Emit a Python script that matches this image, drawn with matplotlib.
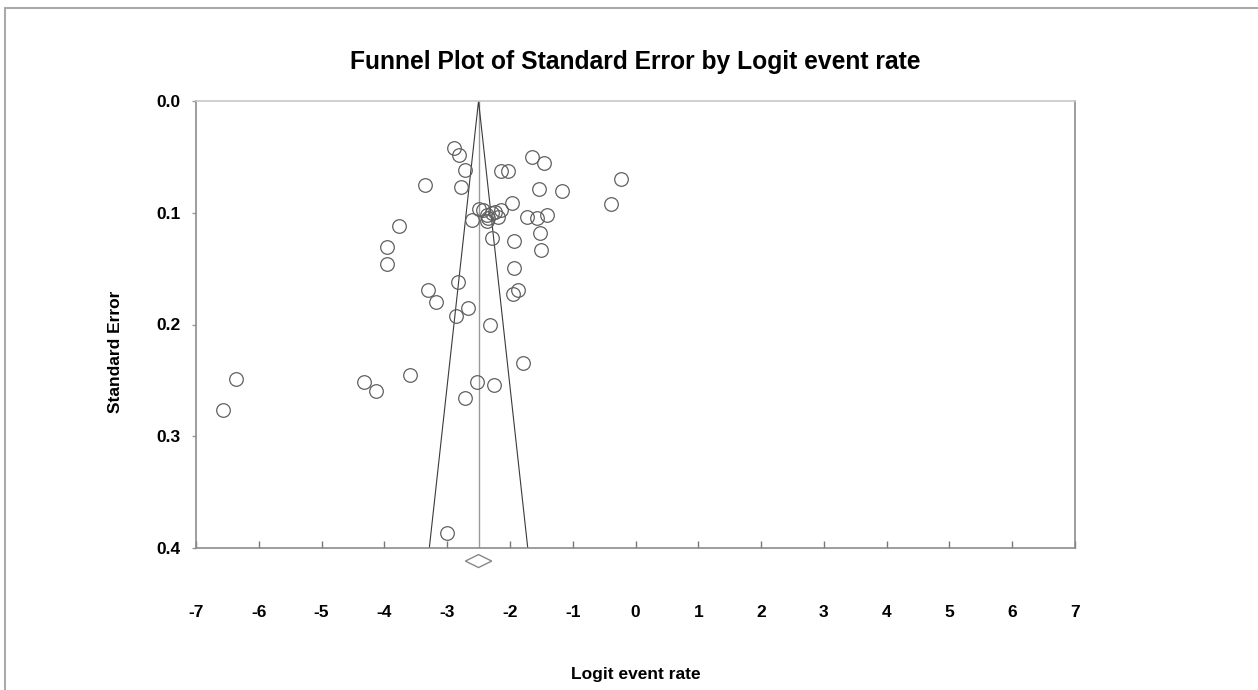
import matplotlib.pyplot as plt
from matplotlib.patches import Polygon, Rectangle

plt.rcParams["font.family"] = ["Liberation Sans", "DejaVu Sans"]
plt.rcParams["axes.unicode_minus"] = False

# Study estimates: logit event rate and standard error
logit_rate = [
    -6.565, -6.358, -4.324, -4.129, -3.587, -3.772, -3.963, -3.953,
    -3.345, -3.311, -3.178, -2.886, -2.816, -2.721, -2.780, -2.147,
    -2.031, -1.654, -1.463, -0.236, -0.391, -1.542, -1.171, -1.972,
    -1.729, -1.574, -1.415, -1.521, -1.506, -2.281, -1.939, -1.932,
    -1.947, -1.867, -2.827, -2.665, -2.859, -2.318, -1.787, -2.530,
    -2.249, -2.716, -2.998, -2.493, -2.424, -2.612, -2.366, -2.345,
    -2.370, -2.238, -2.143, -2.190, -2.291,
]
std_error = [
    0.2765, 0.2490, 0.2512, 0.2592, 0.2452, 0.1116, 0.1304, 0.1461,
    0.0754, 0.1688, 0.1799, 0.0423, 0.0483, 0.0615, 0.0770, 0.0628,
    0.0622, 0.0504, 0.0555, 0.0698, 0.0919, 0.0786, 0.0808, 0.0915,
    0.1035, 0.1044, 0.1020, 0.1179, 0.1333, 0.1229, 0.1255, 0.1492,
    0.1727, 0.1691, 0.1620, 0.1848, 0.1928, 0.2004, 0.2347, 0.2512,
    0.2544, 0.2660, 0.3863, 0.0966, 0.0975, 0.1065, 0.1020, 0.1051,
    0.1074, 0.0993, 0.0971, 0.1034, 0.1005,
]

pooled = -2.50        # combined logit event rate
pooled_half = 0.21    # half width of the pooled diamond
se_max = 0.4
x_ticks = list(range(-7, 8))
y_ticks = [0.0, 0.1, 0.2, 0.3, 0.4]

fig = plt.figure(figsize=(12.58, 6.90), dpi=100)
ax = fig.add_axes([196 / 1258, 1 - 548 / 690, 879 / 1258, 447 / 690])

# funnel
half = 1.96 * se_max
ax.plot([pooled - half, pooled, pooled + half], [se_max, 0, se_max],
        color="#3a3a3a", lw=0.8, zorder=2)
ax.plot([pooled, pooled], [0, se_max], color="#9a9a9a", lw=1.0, zorder=1)

# studies
ax.plot(logit_rate, std_error, "o", ms=9.8, mfc="none", mec="#606060",
        mew=0.9, zorder=3)

# pooled estimate diamond under the axis
dy = 0.0058
diamond = Polygon([[pooled - pooled_half, 0.4117], [pooled, 0.4117 - dy],
                   [pooled + pooled_half, 0.4117], [pooled, 0.4117 + dy]],
                  closed=True, fill=False, ec="#888888", lw=1.0,
                  clip_on=False)
ax.add_patch(diamond)

ax.set_xlim(-7, 7)
ax.set_ylim(0.4, 0.0)
ax.set_xticks(x_ticks)
ax.set_yticks(y_ticks)
ax.set_yticklabels([f"{v:.1f}" for v in y_ticks])

for s in ax.spines.values():
    s.set_color("#8c8c8c")
    s.set_linewidth(1.2)
ax.spines["top"].set_color("#c8c8c8")

ax.tick_params(axis="x", direction="in", length=5, width=1, color="#777777",
               pad=41, labelsize=12.5)
ax.tick_params(axis="y", direction="out", length=3, width=1, color="#999999",
               pad=8, labelsize=12.5)
for lab in ax.get_xticklabels() + ax.get_yticklabels():
    lab.set_fontweight("bold")

ax.set_xlabel("Logit event rate", fontsize=12.5, fontweight="bold")
ax.set_ylabel("Standard Error", fontsize=12.5, fontweight="bold")
ax.xaxis.set_label_coords(0.5, -(674 - 548) / 447)
ax.yaxis.set_label_coords(-(196 - 116) / 879, (548 - 352) / 447)
ax.xaxis.label.set_va("center")
ax.yaxis.label.set_va("center")
fig.text(635 / 1258, 1 - 62 / 690, "Funnel Plot of Standard Error by Logit event rate",
         ha="center", va="center", fontsize=17.7, fontweight="bold")

# thin frame round the figure (top and left edges visible)
fig.patches.append(Rectangle((5 / 1258, -0.1), 1.2, 1 - 8 / 690 + 0.1,
                             transform=fig.transFigure, fill=False,
                             ec="#aaaaaa", lw=1.5))

fig.savefig("out.png", dpi=100)
